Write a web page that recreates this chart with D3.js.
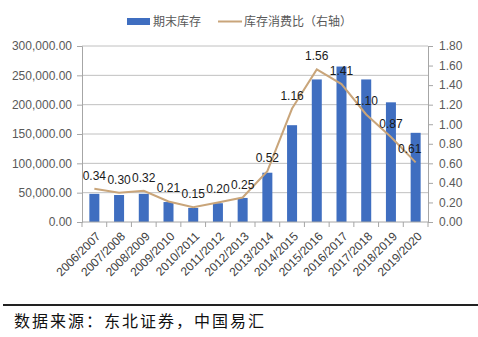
<!DOCTYPE html>
<html><head><meta charset="utf-8">
<script src="https://cdn.jsdelivr.net/npm/d3@7"></script>
<style>body{margin:0;background:#fff}svg{display:block}</style>
</head><body><svg id="c" width="478" height="337"></svg>
<script>
const categories = ["2006/2007","2007/2008","2008/2009","2009/2010","2010/2011","2011/2012","2012/2013","2013/2014","2014/2015","2015/2016","2016/2017","2017/2018","2018/2019","2019/2020"];
const stocks = [48000,46000,48000,34000,24000,32000,41000,84000,165000,243000,265000,243000,204000,152000];
const ratio = [0.34,0.30,0.32,0.21,0.15,0.20,0.25,0.52,1.16,1.56,1.41,1.10,0.87,0.61];
const leftTicks = [0,50000,100000,150000,200000,250000,300000];
const rightTicks = [0,0.2,0.4,0.6,0.8,1.0,1.2,1.4,1.6,1.8];

const svg = d3.select("#c");
const L=82,R=428,T=46,B=222;
const xb = d3.scaleBand().domain(categories).range([L,R]);
const yL = d3.scaleLinear().domain([0,300000]).range([B,T]);
const yR = d3.scaleLinear().domain([0,1.8]).range([B,T]);
const font = "'Liberation Sans', Arial, sans-serif";

// grid
svg.append("g").selectAll("line").data(leftTicks.slice(1)).join("line")
  .attr("x1",L).attr("x2",R).attr("y1",d=>yL(d)).attr("y2",d=>yL(d))
  .attr("stroke","#c0c0c0").attr("stroke-width",1);

// bars
svg.append("g").selectAll("rect").data(stocks).join("rect")
  .attr("x",(d,i)=>xb(categories[i])+xb.bandwidth()/2-5).attr("width",10)
  .attr("y",d=>yL(d)).attr("height",d=>B-yL(d)).attr("fill","#3f6ec0");

// left axis
const gl = svg.append("g").attr("transform",`translate(${L},0)`)
  .call(d3.axisLeft(yL).tickValues(leftTicks).tickSize(5).tickPadding(5).tickFormat(d3.format(",.2f")));
gl.select(".domain").attr("stroke","#a6a6a6");
gl.selectAll(".tick line").attr("stroke","#a6a6a6");
gl.selectAll("text").attr("font-family",font).attr("font-size",12).attr("fill","#595959");

// right axis
const gr = svg.append("g").attr("transform",`translate(${R},0)`)
  .call(d3.axisRight(yR).tickValues(rightTicks).tickSize(5).tickPadding(6).tickFormat(d3.format(".2f")));
gr.select(".domain").attr("stroke","#a6a6a6");
gr.selectAll(".tick line").attr("stroke","#a6a6a6");
gr.selectAll("text").attr("font-family",font).attr("font-size",12).attr("fill","#595959");

// x axis
const gx = svg.append("g").attr("transform",`translate(0,${B})`);
gx.append("line").attr("x1",L).attr("x2",R).attr("stroke","#a6a6a6");
gx.selectAll("line.t").data(categories.concat(["_end"])).join("line").attr("class","t")
  .attr("x1",(d,i)=>L+i*xb.bandwidth()).attr("x2",(d,i)=>L+i*xb.bandwidth())
  .attr("y1",0).attr("y2",5).attr("stroke","#a6a6a6");
gx.selectAll("text").data(categories).join("text")
  .attr("transform",d=>`translate(${xb(d)+xb.bandwidth()/2+4},12) rotate(-45)`)
  .attr("text-anchor","end").attr("dy","0.35em")
  .attr("font-family",font).attr("font-size",12).attr("fill","#404040").text(d=>d);

// line
const line = d3.line().x((d,i)=>xb(categories[i])+xb.bandwidth()/2).y(d=>yR(d));
svg.append("path").datum(ratio).attr("d",line).attr("fill","none")
  .attr("stroke","#c9a57a").attr("stroke-width",2);

// labels
svg.append("g").selectAll("text").data(ratio).join("text")
  .attr("x",(d,i)=>xb(categories[i])+xb.bandwidth()/2+(i===13?-6:0))
  .attr("y",d=>yR(d)-9).attr("text-anchor","middle")
  .attr("font-family",font).attr("font-size",12).attr("fill","#1a1a1a")
  .text(d=>d3.format(".2f")(d));

// legend
const lg = svg.append("g").attr("font-family","'Noto Sans CJK SC', sans-serif").attr("font-size",12).attr("fill","#595959");
lg.append("rect").attr("x",127).attr("y",18).attr("width",23).attr("height",7).attr("fill","#3f6ec0");
lg.append("text").attr("x",153).attr("y",26).text("期末库存");
lg.append("line").attr("x1",218).attr("x2",242).attr("y1",21.5).attr("y2",21.5).attr("stroke","#c9a57a").attr("stroke-width",2);
lg.append("text").attr("x",244).attr("y",26).text("库存消费比（右轴）");

// footer
svg.append("line").attr("x1",3).attr("x2",478).attr("y1",305).attr("y2",305).attr("stroke","#222").attr("stroke-width",2);
svg.append("text").attr("x",14).attr("y",327).attr("font-family","'Noto Sans CJK SC', sans-serif")
  .attr("font-size",16).attr("letter-spacing",2).attr("fill","#111").text("数据来源：东北证券，中国易汇");
</script></body></html>
